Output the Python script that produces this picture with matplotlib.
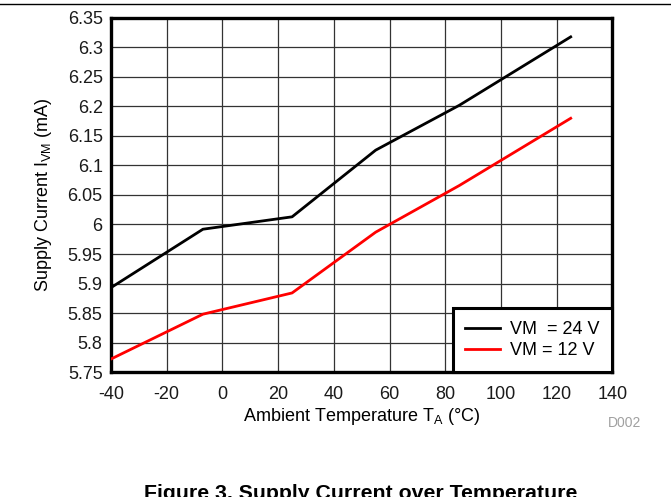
import matplotlib
matplotlib.use('Agg')
import matplotlib.pyplot as plt
from matplotlib.lines import Line2D

plt.rcParams['font.family'] = ['Liberation Sans', 'DejaVu Sans']
plt.rcParams['axes.unicode_minus'] = False

# temperature points (degC) and supply current (mA)
temp = [-40, -7, 25, 55, 85, 125]
i_vm_24v = [5.893, 5.992, 6.013, 6.126, 6.202, 6.318]
i_vm_12v = [5.772, 5.848, 5.884, 5.987, 6.066, 6.180]

x_ticks = [-40, -20, 0, 20, 40, 60, 80, 100, 120, 140]
y_ticks = [5.75, 5.8, 5.85, 5.9, 5.95, 6, 6.05, 6.1, 6.15, 6.2, 6.25, 6.3, 6.35]
y_labels = ['5.75', '5.8', '5.85', '5.9', '5.95', '6', '6.05', '6.1', '6.15',
            '6.2', '6.25', '6.3', '6.35']

fig = plt.figure(figsize=(6.71, 4.97), dpi=100)
ax = fig.add_axes([0.1654, 0.2515, 0.7474, 0.7123])

ax.plot(temp, i_vm_24v, color='black', lw=2, label='VM  = 24 V', zorder=3)
ax.plot(temp, i_vm_12v, color='#ff0000', lw=2, label='VM = 12 V', zorder=3)

ax.set_xlim(-40, 140)
ax.set_ylim(5.75, 6.35)
ax.set_xticks(x_ticks)
ax.set_yticks(y_ticks)
ax.set_yticklabels(y_labels)
ax.tick_params(length=0, labelsize=13, colors='#1a1a1a')
ax.tick_params(axis='x', pad=10)
ax.tick_params(axis='y', pad=6)
ax.grid(True, color='#333333', lw=0.9)
ax.set_axisbelow(True)
for s in ax.spines.values():
    s.set_linewidth(2.4)
    s.set_color('black')

ax.set_xlabel('Ambient Temperature T$_\\mathregular{A}$ (°C)', fontsize=13, labelpad=2)
ax.set_ylabel('Supply Current I$_\\mathregular{VM}$ (mA)', fontsize=13, labelpad=10)

leg = ax.legend(loc='lower right', fontsize=13, frameon=True, fancybox=False,
                borderpad=0.7, handlelength=1.9, handletextpad=0.6,
                borderaxespad=0, labelspacing=0.25)
leg.get_frame().set_edgecolor('black')
leg.get_frame().set_linewidth(2.2)
leg.get_frame().set_alpha(1)

fig.text(0.955, 1 - 423 / 497, 'D002', fontsize=10, color='#a0a0a0',
         ha='right', va='center')
# caption sits at the bottom edge, cut off like in the source page
fig.text(361 / 671, 1 - 484 / 497, 'Figure 3. Supply Current over Temperature',
         fontsize=15.3, fontweight='bold', ha='center', va='top')
fig.add_artist(Line2D([0, 1], [1 - 4 / 497, 1 - 4 / 497], color='black', lw=1))

fig.savefig('out.png', dpi=100)
